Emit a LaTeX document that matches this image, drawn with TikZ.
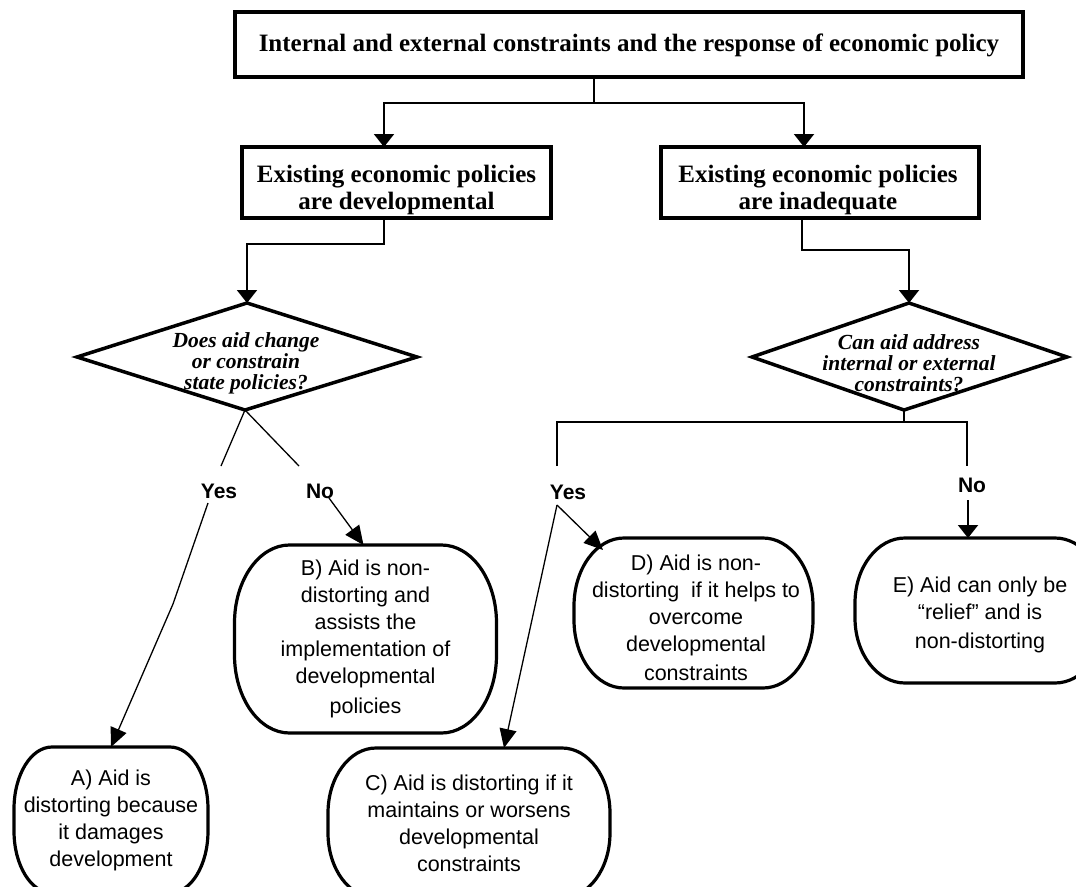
\documentclass[tikz,border=0pt]{standalone}
\usepackage{fontspec}
\setmainfont{Liberation Serif}
\setsansfont{Liberation Sans}
\usetikzlibrary{arrows.meta,calc}
\newcommand{\myStadium}[3]{%
  \draw[oline] ([xshift=#2]#1.north west) -- ([xshift=-#2]#1.north east)
    arc[start angle=90,end angle=0,x radius=#2,y radius=#3]
    -- ([yshift=#3]#1.south east)
    arc[start angle=0,end angle=-90,x radius=#2,y radius=#3]
    -- ([xshift=#2]#1.south west)
    arc[start angle=-90,end angle=-180,x radius=#2,y radius=#3]
    -- ([yshift=-#3]#1.north west)
    arc[start angle=180,end angle=90,x radius=#2,y radius=#3] -- cycle;}
\begin{document}
\begin{tikzpicture}[x=1pt,y=-1pt,
  box/.style={draw, line width=3.8pt, inner sep=0pt, outer sep=0pt},
  btext/.style={inner sep=0pt, align=center, font=\fontsize{25}{27}\selectfont\bfseries},
  oval/.style={inner sep=0pt, outer sep=0pt, align=center, font=\fontsize{21.5}{27}\selectfont\sffamily},
  ovaltext/.style={inner sep=0pt, align=center, font=\fontsize{21.5}{27}\selectfont\sffamily},
  dtext/.style={inner sep=0pt, align=center, font=\fontsize{21.5}{21}\selectfont\bfseries\itshape},
  lab/.style={inner sep=0pt, font=\fontsize{21}{23}\selectfont\sffamily\bfseries},
  conn/.style={line width=2pt},
  slim/.style={line width=1.3pt},
  arr/.style={conn, -{Triangle[width=20pt,length=13pt]}},
  sarr/.style={slim, -{Triangle[width=17pt,length=19pt]}},
  dline/.style={line width=3.5pt, line join=miter},
  oline/.style={line width=3.2pt}]
\useasboundingbox (0,0) rectangle (1076,886);

% top box
\node[box, minimum width=788pt, minimum height=65pt] (title) at (629,44.5) {};
\node[btext] (titlet) at (629,45) {Internal and external constraints and the response of economic policy};

% second row boxes
\node[box, minimum width=309pt, minimum height=71pt] (lb) at (396.5,182.5) {};
\node[btext] (lbt) at (396.5,190) {Existing economic policies\\are developmental};
\node[box, minimum width=318pt, minimum height=71pt] (rb) at (820,182.5) {};
\node[btext] (rbt) at (818,190) {Existing economic policies\\are inadequate};

\coordinate (j1) at (594,103);
\draw[conn] (title.south -| j1) -- (j1);
\draw[arr] (j1) -| ([xshift=-12.5pt]lb.north);
\draw[arr] (j1) -| ([xshift=-16pt]rb.north);

% diamonds
\coordinate (d1c) at (246,357);
\coordinate (d1t) at ($(d1c)+(1,-54)$);
\coordinate (d1r) at ($(d1c)+(171,0)$);
\coordinate (d1b) at ($(d1c)+(-1,53)$);
\coordinate (d1l) at ($(d1c)+(-169,0)$);
\draw[dline] (d1t) -- (d1r) -- (d1b) -- (d1l) -- cycle;
\node[dtext] (d1) at (246,363) {Does aid change\\or constrain\\state policies?};

\coordinate (d2c) at (907,357);
\coordinate (d2t) at ($(d2c)+(2,-54)$);
\coordinate (d2r) at ($(d2c)+(160,0)$);
\coordinate (d2b) at ($(d2c)+(-3,53)$);
\coordinate (d2l) at ($(d2c)+(-155,0)$);
\draw[dline] (d2t) -- (d2r) -- (d2b) -- (d2l) -- cycle;
\node[dtext] (d2) at (909,363) {Can aid address\\internal or external\\constraints?};

\draw[arr] ([xshift=-12.5pt]lb.south) -- ++(0,26) -| (d1t);
\draw[arr] ([xshift=-18pt]rb.south) -- ++(0,32) -| (d2t);

% outcome ovals
\node[oval, minimum width=194pt, minimum height=146pt] (A) at (111,820)
  {A) Aid is\\distorting because\\it damages\\development};
\myStadium{A}{38pt}{62pt}
\node[oval, minimum width=262pt, minimum height=188pt] (B) at (365.5,639)
  {B) Aid is non-\\distorting and\\assists the\\implementation of\\developmental\\[3pt]policies};
\myStadium{B}{55pt}{78pt}
\node[oval, minimum width=282pt, minimum height=150pt] (C) at (469,823)
  {C) Aid is distorting if it\\maintains or worsens\\developmental\\constraints};
\myStadium{C}{48pt}{65pt}
\node[oval, minimum width=239pt, minimum height=150pt] (D) at (693.5,613) {};
\node[ovaltext] (Dt) at (696,618)
  {D) Aid is non-\\distorting~ if it helps to\\overcome\\developmental\\[2pt]constraints};
\myStadium{D}{50pt}{68pt}
\node[oval, minimum width=250pt, minimum height=145pt] (E) at (980,610.5) {};
\node[ovaltext] (Et) at (980,615)
  {E) Aid can only be\\“relief” and is\\[2pt]non-distorting};
\myStadium{E}{50pt}{65pt}

% left branches
\node[lab] (yes1) at (219,491) {Yes};
\node[lab] (no1) at (320,491) {No};
\coordinate (y1a) at (221,466);
\coordinate (y1b) at (208,503);
\coordinate (y1m) at (173,604);
\coordinate (n1a) at (299,466);
\coordinate (n1b) at (329,498);
\draw[slim] (d1b) -- (y1a);
\draw[slim] (d1b) -- (n1a);
\draw[sarr] (y1b) -- (y1m) -- (A.north);
\draw[sarr] (n1b) -- ([xshift=-2pt]B.north);

% right branches
\coordinate (j2) at (904,422);
\coordinate (y2a) at (557,466);
\coordinate (n2a) at (967,466);
\draw[conn] (d2b) -- (j2);
\draw[conn] (y2a) |- (j2) -| (n2a);
\node[lab] (yes2) at (568,492) {Yes};
\node[lab] (no2) at (972,485) {No};
\coordinate (y2b) at (557,505);
\coordinate (n2b) at (968,500);
\draw[sarr] (y2b) -- ([xshift=35pt]C.north);
\draw[sarr] (y2b) -- ([xshift=29pt,yshift=-12pt]D.north west);
\draw[arr] (n2b) -- ([xshift=-12pt]E.north);
\end{tikzpicture}
\end{document}
